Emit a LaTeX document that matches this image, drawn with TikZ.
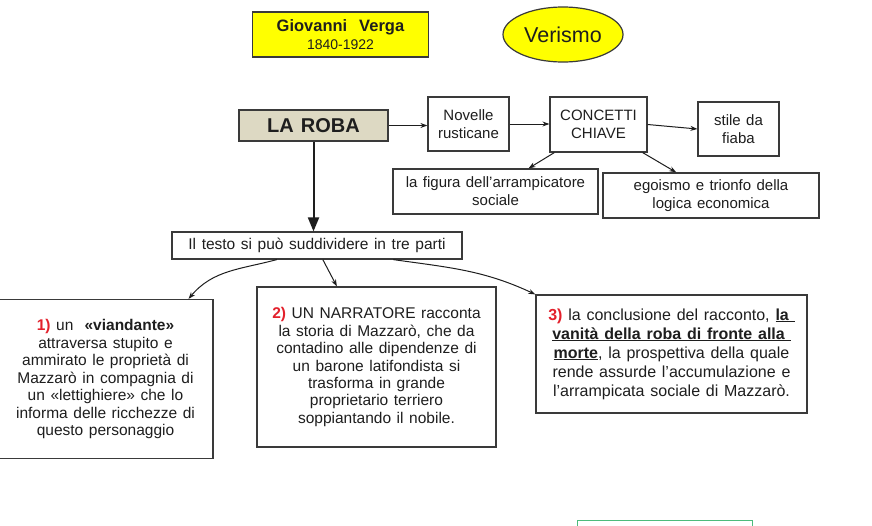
\documentclass[tikz,border=0pt]{standalone}
\usepackage{fontspec}
\setmainfont{Liberation Sans}[WordSpace=1.3]
\usetikzlibrary{arrows.meta,shapes.geometric,calc}
\definecolor{txt}{HTML}{1E1E1E}
\definecolor{edge}{HTML}{3A3A3A}
\definecolor{yel}{HTML}{FFFF00}
\definecolor{tanfill}{HTML}{DDD9C3}
\definecolor{numred}{HTML}{E3202B}
\definecolor{grn}{HTML}{4DBB7C}
\newcommand{\fs}[2]{\fontsize{#1}{#2}\selectfont}
\newcommand{\nr}[1]{\textcolor{numred}{\textbf{#1}}}
\newcommand{\ubf}[1]{\underline{\textbf{#1}}}
\begin{document}
\begin{tikzpicture}[x=1pt,y=1pt,
  cbox/.style={draw=edge,line width=1.2pt,fill=white,text=txt,align=center,inner sep=0pt},
  arr/.style={draw=txt,line width=1pt,-{Stealth[length=7pt,width=5pt]}},
  bigarr/.style={draw=txt,line width=2pt,-{Stealth[length=14pt,width=11pt,inset=0pt]}}]
\useasboundingbox (0,0) rectangle (872,-525);
\fill[white] (0,0) rectangle (872,-525);

\node[cbox,fill=yel,line width=1.5pt,minimum width=176,minimum height=45,font=\fs{16.5}{18}] (verga) at (340.5,-34.5)
  {\textbf{Giovanni\ \ Verga}\\[0.5pt]{\fs{14}{15}1840-1922}};
\node[ellipse,draw=edge,line width=1.2pt,fill=yel,text=txt,minimum width=120,minimum height=55,inner sep=0pt,font=\fs{21.5}{24}] (verismo) at (563,-34.5) {Verismo};

\node[cbox,fill=tanfill,line width=1.5pt,minimum width=149,minimum height=31,font=\fs{20}{24}] (laroba) at (313.5,-125.5) {\textbf{LA ROBA}};
\node[cbox,minimum width=81,minimum height=54,font=\fs{15}{18}] (novelle) at (468.5,-124) {Novelle\\rusticane};
\node[cbox,minimum width=97,minimum height=55,font=\fs{15}{18}] (concetti) at (598.5,-124.5) {CONCETTI\\CHIAVE};
\node[cbox,minimum width=81,minimum height=54,font=\fs{15}{18}] (stile) at (738.5,-129) {stile da\\fiaba};
\node[cbox,minimum width=205,minimum height=45,font=\fs{15}{18}] (figura) at (495.5,-191.5) {la figura dell’arrampicatore\\sociale};
\node[cbox,minimum width=216,minimum height=45,font=\fs{15}{18}] (egoismo) at (711,-195.5) {egoismo e trionfo della\\logica economica};

\node[cbox,minimum width=290,minimum height=27,font=\fs{15.5}{18}] (testo) at (317,-245.5) {Il testo si può suddividere in tre parti};

\node[cbox,minimum width=215,minimum height=159,font=\fs{15.5}{17.5}] (box1) at (105.5,-379)
  {\nr{1)} un\ \ \textbf{«viandante»}\\attraversa stupito e\\ammirato le proprietà di\\Mazzarò in compagnia di\\un «lettighiere» che lo\\informa delle ricchezze di\\questo personaggio};
\node[cbox,minimum width=239,minimum height=160,font=\fs{15.5}{17.4}] (box2) at (376.5,-367)
  {\nr{2)} UN NARRATORE racconta\\la storia di Mazzarò, che da\\contadino alle dipendenze di\\un barone latifondista si\\trasforma in grande\\proprietario terriero\\soppiantando il nobile.};
\node[cbox,minimum width=271,minimum height=118,font=\fs{16}{19}] (box3) at (671.5,-354)
  {\nr{3)} la conclusione del racconto, \ubf{la\ }\\\ubf{vanità della roba di fronte alla\ }\\\ubf{morte}, la prospettiva della quale\\rende assurde l’accumulazione e\\l’arrampicata sociale di Mazzarò.};

\node[draw=grn,line width=1.2pt,minimum width=175,minimum height=30,inner sep=0pt,anchor=north west] (green) at (577,-520) {};

\draw[arr] (laroba.east) -- (novelle.west |- laroba.east);
\draw[arr] (novelle.east) -- (concetti.west |- novelle.east);
\draw[arr] (concetti.east) -- (stile.west);
\draw[arr] ($(concetti.south west)!0.05!(concetti.south east)$) -- ($(figura.north west)!0.66!(figura.north east)$);
\draw[arr] ($(concetti.south west)!0.95!(concetti.south east)$) -- ($(egoismo.north west)!0.34!(egoismo.north east)$);
\draw[bigarr] (laroba.south) -- (laroba.south |- testo.north);
\draw[arr] ($(testo.south west)!0.362!(testo.south east)$) to[out=195,in=50] ($(box1.north west)!0.884!(box1.north east)$);
\draw[arr] ($(testo.south west)!0.52!(testo.south east)$) -- ($(box2.north west)!0.335!(box2.north east)$);
\draw[arr] ($(testo.south west)!0.762!(testo.south east)$) to[out=-8,in=155] (box3.north west);
\end{tikzpicture}
\end{document}
